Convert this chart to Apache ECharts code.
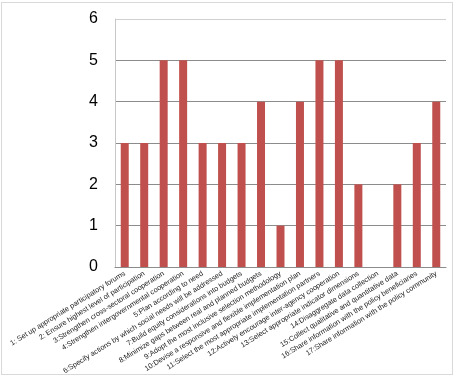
<!DOCTYPE html>
<html><head><meta charset="utf-8">
<script src="https://cdn.jsdelivr.net/npm/echarts@6/dist/echarts.min.js"></script>
<style>
html,body{margin:0;padding:0;background:#fff;}
#frame{position:absolute;left:1px;top:2px;width:450px;height:371px;border:1px solid #d9d9d9;}
#c{position:absolute;left:0;top:0;width:457px;height:379px;}
</style></head>
<body>
<div id="frame"></div>
<div id="c"></div>
<script>
const categories = [
  "1: Set up appropriate participatory forums",
  "2: Ensure highest level of participation",
  "3:Strengthen cross-sectoral cooperation",
  "4:Strengthen intergovernmental cooperation",
  "5:Plan according to need",
  "6:Specify actions by which social needs will be addressed",
  "7:Build equity considerations into budgets",
  "8:Minimize gaps between real and planned budgets",
  "9:Adopt the most inclusive selection methodology",
  "10:Devise a responsive and flexible implementation plan",
  "11:Select the most appropriate implementation partners",
  "12:Actively encourage inter-agency cooperation",
  "13:Select appropriate indicator dimensions",
  "14:Disaggregate data collection",
  "15:Collect qualitative and quantitative data",
  "16:Share information with the policy beneficiaries",
  "17:Share information with the policy community"
];
const values = [3, 3, 5, 5, 3, 3, 3, 4, 1, 4, 5, 5, 2, 0, 2, 3, 4];
const yTicks = [0, 1, 2, 3, 4, 5, 6];

const chart = echarts.init(document.getElementById('c'), null, {renderer: 'canvas'});
chart.setOption({
  animation: false,
  backgroundColor: 'transparent',
  grid: {left: 115, top: 19, right: 11, bottom: 112},
  xAxis: {
    type: 'category',
    data: categories,
    axisLine: {show: true, lineStyle: {color: '#8c8c8c', width: 1}},
    axisTick: {show: false},
    axisLabel: {
      interval: 0, rotate: 32, fontSize: 7.3, color: '#222',
      fontFamily: 'Liberation Sans', margin: 6
    }
  },
  yAxis: {
    type: 'value',
    min: yTicks[0], max: yTicks[yTicks.length - 1], interval: 1,
    axisLine: {show: true, lineStyle: {color: '#c8c8c8', width: 1}},
    axisTick: {show: false},
    axisLabel: {fontSize: 16, color: '#000', fontFamily: 'Liberation Sans', margin: 17},
    splitLine: {show: true, lineStyle: {color: ['#8c8c8c','#8c8c8c','#8c8c8c','#8c8c8c','#8c8c8c','#8c8c8c','#d0d0d0'], width: 1}}
  },
  series: [{
    type: 'bar',
    data: values,
    barWidth: 8,
    itemStyle: {color: '#C0504D'}
  }]
});
</script>
</body></html>
